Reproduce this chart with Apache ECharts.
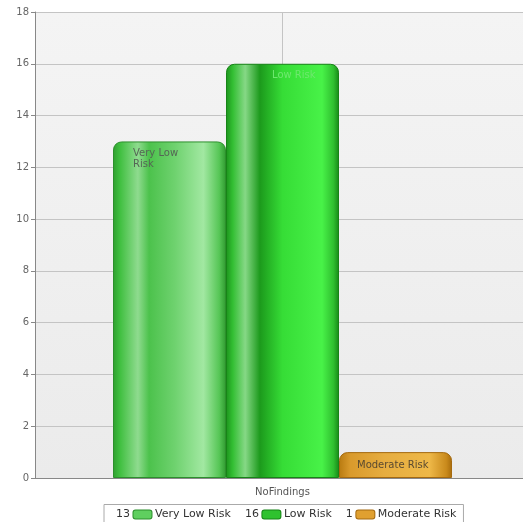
<!DOCTYPE html>
<html><head><meta charset="utf-8">
<script src="https://cdn.jsdelivr.net/npm/echarts@6/dist/echarts.min.js"></script>
<style>html,body{margin:0;padding:0;background:#fff;overflow:hidden;width:523px;height:522px}#c{width:530px;height:522px}</style>
</head><body><div id="c"></div>
<script>
const categories = ['NoFindings'];
const seriesNames = ['Very Low Risk', 'Low Risk', 'Moderate Risk'];
const seriesValues = [[13], [16], [1]];
const yTicks = { min: 0, max: 18, interval: 2 };

function grad(stops) {
  return new echarts.graphic.LinearGradient(0, 0, 1, 0, stops.map(s => ({ offset: s[0], color: s[1] })));
}
const fills = [
  grad([[0,'#2f9f2f'],[0.06,'#3fbf3f'],[0.22,'#8fdb8f'],[0.32,'#4cc24c'],[0.55,'#6fd26f'],[0.8,'#a2e8a2'],[0.94,'#56c656'],[1,'#2f9a2f']]),
  grad([[0,'#1c931c'],[0.06,'#33bf33'],[0.17,'#86d886'],[0.3,'#1c9a1c'],[0.5,'#36dd36'],[0.85,'#48f248'],[0.95,'#30c030'],[1,'#178817']]),
  grad([[0,'#b87a10'],[0.1,'#d99a2c'],[0.4,'#e6ad40'],[0.8,'#eeb848'],[0.95,'#c98a1c'],[1,'#a86c0c']])
];
const swatch = ['#5fcf5f', '#2fc22f', '#e0a030'];
const borders = ['#2c8f2c', '#178417', '#a56a10'];
const labelColors = ['#556655', '#6ee86e', '#5a4a30'];
const labelPadLeft = [20, 46, 18];
const labelPadTop = [6, 6, 8];
const labelWidth = [50, 80, 100];

const chart = echarts.init(document.getElementById('c'));
const series = seriesNames.map((name, i) => ({
  name, type: 'bar', data: seriesValues[i], barWidth: 113, barGap: '0%',
  itemStyle: { color: fills[i], borderColor: borders[i], borderWidth: 1, borderRadius: [8, 8, 0, 0] },
  label: { show: true, position: 'insideTopLeft', distance: 0, padding: [labelPadTop[i], 0, 0, labelPadLeft[i]],
    width: labelWidth[i], overflow: 'break', lineHeight: 11,
    formatter: '{a}', color: labelColors[i], fontSize: 10, fontFamily: 'DejaVu Sans' }
}));
series.push({
  name: 'centerLine', type: 'line', data: [], silent: true,
  markLine: { silent: true, symbol: 'none', z: 1, label: { show: false },
    lineStyle: { color: '#c4c4c4', type: 'solid', width: 1 },
    data: [{ xAxis: categories[0] }] }
});
chart.setOption({
  animation: false,
  backgroundColor: '#ffffff',
  grid: { left: 35, right: 0, top: 12, bottom: 44, show: true,
    backgroundColor: new echarts.graphic.LinearGradient(0,0,0,1,[{offset:0,color:'#f4f4f4'},{offset:1,color:'#ebebeb'}]),
    borderWidth: 0 },
  xAxis: {
    type: 'category', data: categories,
    axisLine: { lineStyle: { color: '#888' } },
    axisTick: { alignWithLabel: true, length: 4, lineStyle: { color: '#888' } },
    axisLabel: { color: '#555', fontSize: 10, fontFamily: 'DejaVu Sans', margin: 9 },
    splitLine: { show: false }
  },
  yAxis: {
    type: 'value', min: yTicks.min, max: yTicks.max, interval: yTicks.interval,
    axisLine: { show: true, lineStyle: { color: '#888' } },
    axisTick: { show: true, length: 4, lineStyle: { color: '#888' } },
    axisLabel: { color: '#666', fontSize: 10, fontFamily: 'DejaVu Sans', margin: 6 },
    splitLine: { lineStyle: { color: '#c4c4c4' } }
  },
  legend: {
    bottom: -3, left: 104,
    data: seriesNames,
    icon: 'none', itemWidth: 0, itemGap: 9,
    borderColor: '#aaa', borderWidth: 1, padding: [3, 7, 5, 7],
    backgroundColor: '#fff',
    formatter: function (name) {
      const i = seriesNames.indexOf(name);
      return '{v|' + seriesValues[i][0] + '} {s' + i + '|} {n|' + name + '}';
    },
    textStyle: {
      fontFamily: 'DejaVu Sans', fontSize: 11, color: '#333',
      rich: {
        v: { fontSize: 11, color: '#333' },
        n: { fontSize: 11, color: '#333' },
        s0: { width: 18, height: 8, backgroundColor: swatch[0], borderColor: borders[0], borderWidth: 1, borderRadius: 2 },
        s1: { width: 18, height: 8, backgroundColor: swatch[1], borderColor: borders[1], borderWidth: 1, borderRadius: 2 },
        s2: { width: 18, height: 8, backgroundColor: swatch[2], borderColor: borders[2], borderWidth: 1, borderRadius: 2 }
      }
    }
  },
  series
});
</script></body></html>
